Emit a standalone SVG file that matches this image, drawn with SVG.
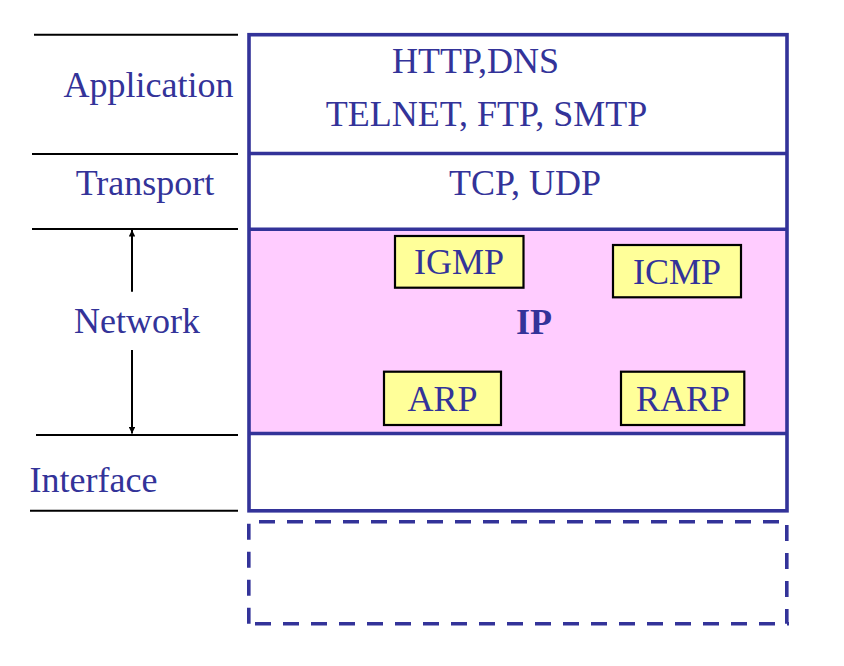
<svg xmlns="http://www.w3.org/2000/svg" width="844" height="666" viewBox="0 0 844 666">
<style>
  .t { font-family: "Liberation Serif", "Times New Roman", serif; font-size: 36px; fill: #333399; text-anchor: middle; }
  .b { font-weight: bold; }
  .rule { stroke: #000; stroke-width: 2; fill: none; }
  .frame { stroke: #333399; stroke-width: 3.6; fill: none; }
  .dash { stroke: #333399; stroke-width: 3.6; fill: none; stroke-dasharray: 16 12; }
  .proto { fill: #FFFF99; stroke: #000; stroke-width: 2.2; }
</style>
<defs>
  <marker id="ah" viewBox="0 0 10 10" refX="10" refY="5" markerWidth="10" markerHeight="6.5" markerUnits="userSpaceOnUse" orient="auto">
    <path d="M0,0 L10,5 L0,10 z" fill="#000"/>
  </marker>
</defs>
<rect width="844" height="666" fill="#fff"/>

<g id="layer-labels">
  <line class="rule" x1="34" y1="34.7" x2="238" y2="34.7"/>
  <line class="rule" x1="32" y1="154" x2="238" y2="154"/>
  <line class="rule" x1="32" y1="229" x2="238" y2="229"/>
  <line class="rule" x1="36" y1="435" x2="238" y2="435"/>
  <line class="rule" x1="30" y1="510.7" x2="238" y2="510.7"/>
  <text class="t" x="148.5" y="97.3">Application</text>
  <text class="t" x="145" y="195">Transport</text>
  <text class="t" x="137" y="332.7">Network</text>
  <text class="t" x="93.5" y="492">Interface</text>
</g>

<g id="connectors">
  <line x1="132" y1="291.7" x2="132" y2="230" stroke="#000" stroke-width="2" marker-end="url(#ah)"/>
  <line x1="132" y1="350" x2="132" y2="433.5" stroke="#000" stroke-width="2" marker-end="url(#ah)"/>
</g>

<g id="stack">
  <rect x="249" y="229.2" width="538" height="204.3" fill="#FFCCFF"/>
  <rect class="frame" x="249" y="34.7" width="538" height="476.1"/>
  <line class="frame" x1="249" y1="153.5" x2="787" y2="153.5"/>
  <line class="frame" x1="249" y1="229.2" x2="787" y2="229.2"/>
  <line class="frame" x1="249" y1="433.5" x2="787" y2="433.5"/>
</g>

<g id="application">
  <text class="t" x="475.5" y="72.7">HTTP,DNS</text>
  <text class="t" x="486.5" y="125.7">TELNET, FTP, SMTP</text>
</g>

<g id="transport">
  <text class="t" x="525" y="195">TCP, UDP</text>
</g>

<g id="ip">
  <text class="t b" x="534" y="334">IP</text>
</g>

<g id="igmp">
  <rect class="proto" x="395" y="236" width="128.5" height="51.7"/>
  <text class="t" x="459" y="274">IGMP</text>
</g>
<g id="icmp">
  <rect class="proto" x="613" y="245" width="128" height="52.3"/>
  <text class="t" x="677" y="284">ICMP</text>
</g>
<g id="arp">
  <rect class="proto" x="384" y="371.7" width="117" height="53.3"/>
  <text class="t" x="442.5" y="410.7">ARP</text>
</g>
<g id="rarp">
  <rect class="proto" x="621" y="371.7" width="123.3" height="53.3"/>
  <text class="t" x="683" y="410.7">RARP</text>
</g>

<g id="physical">
  <path class="dash" d="M259,521.8 H779"/>
  <path class="dash" d="M248.8,523.7 V623.7"/>
  <path class="dash" d="M786.8,525 V623.7"/>
  <path class="dash" d="M255,623.8 H789"/>
</g>
</svg>
